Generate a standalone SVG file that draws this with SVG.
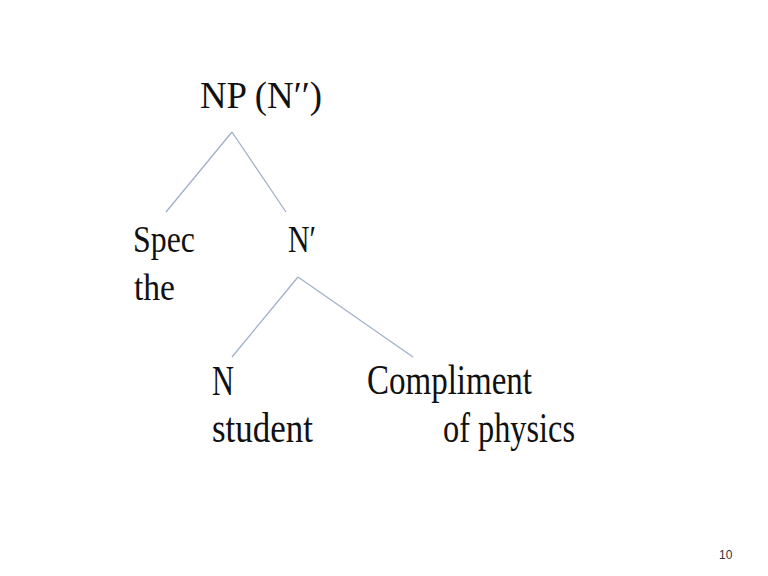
<svg xmlns="http://www.w3.org/2000/svg" width="768" height="576" viewBox="0 0 768 576">
<style>
.t{font-family:"Liberation Serif","Times New Roman",serif;font-size:38px;fill:#111;}
.b{font-size:42px;}
.e{stroke:#9fb0c8;stroke-width:1.3;fill:none;}
</style>
<rect width="768" height="576" fill="#fff"/>
<g id="connectors">
<line class="e" x1="232" y1="132" x2="166" y2="212"/>
<line class="e" x1="232" y1="132" x2="286" y2="212"/>
<line class="e" x1="298" y1="277" x2="232" y2="357"/>
<line class="e" x1="298" y1="277" x2="413" y2="357"/>
</g>
<g id="np"><text class="t" x="200" y="108" textLength="122" lengthAdjust="spacingAndGlyphs">NP (N′′)</text></g>
<g id="spec"><text class="t" x="133" y="252" textLength="62" lengthAdjust="spacingAndGlyphs">Spec</text><text class="t" x="134" y="300" textLength="41" lengthAdjust="spacingAndGlyphs">the</text></g>
<g id="nbar"><text class="t" x="288" y="252" textLength="28" lengthAdjust="spacingAndGlyphs">N′</text></g>
<g id="n"><text class="t b" x="212" y="395" textLength="22" lengthAdjust="spacingAndGlyphs">N</text><text class="t b" x="212" y="442" textLength="101" lengthAdjust="spacingAndGlyphs">student</text></g>
<g id="comp"><text class="t b" x="367" y="394" textLength="165" lengthAdjust="spacingAndGlyphs">Compliment</text><text class="t b" x="443" y="442" textLength="132" lengthAdjust="spacingAndGlyphs">of physics</text></g>
<text x="719" y="559" font-family="Liberation Sans, Arial, sans-serif" font-size="12" fill="#333">10</text>
</svg>
